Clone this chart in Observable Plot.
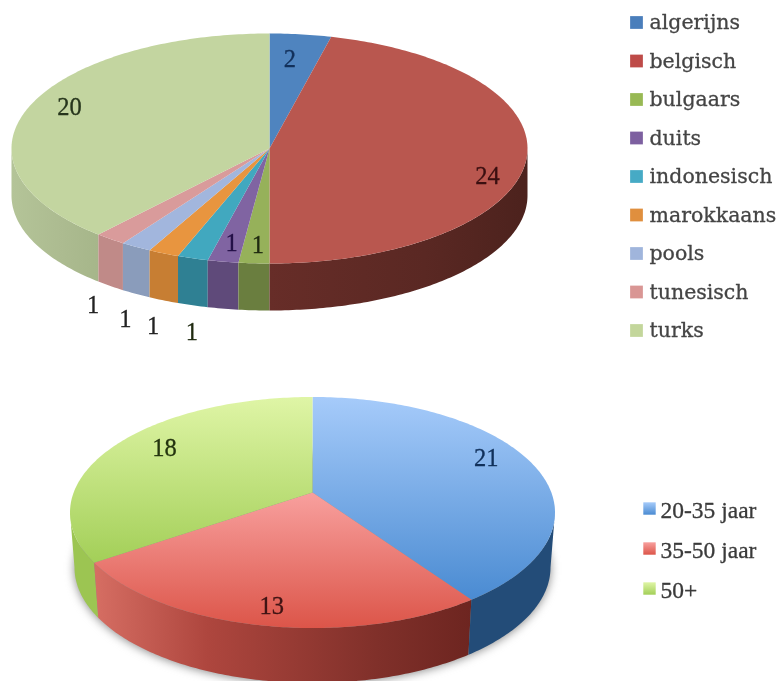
<!DOCTYPE html>
<html><head><meta charset="utf-8">
<script src="https://cdn.jsdelivr.net/npm/d3@7"></script>
<script src="https://cdn.jsdelivr.net/npm/@observablehq/plot@0.6"></script>
<style>html,body{margin:0;padding:0;background:#fff}svg{display:block}</style>
</head><body><div id="chart"></div>
<script>
// --- data ---
const nationalities = ["algerijns","belgisch","bulgaars","duits","indonesisch","marokkaans","pools","tunesisch","turks"];
const nationalityCounts = [2,24,1,1,1,1,1,1,20];
const ageGroups = ["20-35 jaar","35-50 jaar","50+"];
const ageCounts = [21,13,18];
// --- styles ---
const natTop = ["#4f84bf","#b9574f","#96b15a","#8064a2","#41a8bf","#e8953f","#a2b6dd","#d99b9b","#c3d5a0"];
const natSide = ["#34587f","url(#natRed)","#6a7e3f","#5f4a7a","#2f8093","#c77e33","#8a9cbb","#c08a88","url(#natGreen)"];
const natLegend = ["#4a7ebb","#be4b48","#98b954","#7d60a0","#46aac5","#e08f3e","#a0b5dc","#d99694","#c3d69b"];
const natTint = ["#12305a","#3a0f10","#1f2a10","#241048","#1f2a10","#222","#222","#222","#26351c"];
const natNudge = [[-3,-4],[26,17],[0,11],[-3,10],[-20,101],[-37,99],[-44,97],[-57,89],[-19,-11]];
const ageTop = ["url(#ageBlue)","url(#ageRed)","url(#ageGreen)"];
const ageSide = ["#234c78","url(#ageRedSide)","#9cc552"];
const ageTint = ["#10305a","#401414","#24340f"];
const ageNudge = [[0,-9],[-8,30],[13,-5]];
const gradients = [
  ["natRed",0,0,1,0,[["0%","#672d28"],["60%","#5a2823"],["100%","#4c221d"]]],
  ["natGreen",0,0,1,0,[["0%","#b4c498"],["60%","#acbb90"],["100%","#a6b68a"]]],
  ["ageBlue",0,0,0,1,[["0%","#a6cbfa"],["100%","#4a8bd2"]]],
  ["ageRed",0,0,0,1,[["0%","#f8a09e"],["100%","#dc5549"]]],
  ["ageGreen",0,0,0,1,[["0%","#dff5a6"],["100%","#a3cf58"]]],
  ["ageRedSide",0,0,1,0,[["0%","#d66e63"],["30%","#ae463e"],["75%","#80302a"],["100%","#6d2520"]]]
];
const pieA = {apex:[269,148], centre:[269,148], rx:258, ry:115, rxLow:258, k:115, depth:47};
const pieB = {apex:[312,492], centre:[312,512], rx:242.5, ry:115.5, rxLow:238, k:113, depth:55};
const LABEL_F = 0.75;

const TAU = Math.PI*2;
// ellipse parameter at which a slice boundary (true pie angle) reaches the rim
function rimParam(p, a){
  const dx = p.rx*Math.sin(a), dy = -p.k*Math.cos(a);
  const ox = (p.apex[0]-p.centre[0])/p.rx, oy = (p.apex[1]-p.centre[1])/p.ry;
  const ux = dx/p.rx, uy = dy/p.ry;
  const A = ux*ux+uy*uy, B = 2*(ox*ux+oy*uy), C = ox*ox+oy*oy-1;
  const t = (-B+Math.sqrt(B*B-4*A*C))/(2*A);
  let phi = Math.atan2(ox+t*ux, -(oy+t*uy));
  if (phi < -1e-6) phi += TAU;
  return phi;
}
const rimPoint = (p,phi)=>({x:p.centre[0]+p.rx*Math.sin(phi), y:p.centre[1]-p.ry*Math.cos(phi)});
const lowPoint = (p,phi,extra=0)=>({x:p.centre[0]+p.rxLow*Math.sin(phi), y:p.centre[1]-p.ry*Math.cos(phi)+p.depth+extra});
function samples(a,b){const n=Math.max(2,Math.ceil((b-a)/0.015));return d3.range(n+1).map(i=>a+(b-a)*i/n);}

function build(values,p,topFill,sideFill,tint,nudge){
  const total = d3.sum(values); let cum = 0;
  const marks=[], labels=[];
  values.forEach((v,i)=>{
    const a0 = cum/total*TAU, a1 = (cum+v)/total*TAU, mid=(a0+a1)/2; cum += v;
    const f0 = rimParam(p,a0), f1 = i===values.length-1 ? TAU : rimParam(p,a1);
    const top = [{x:p.apex[0],y:p.apex[1]},...samples(f0,f1).map(f=>rimPoint(p,f))];
    marks.push(Plot.line(top,{x:"x",y:"y",fill:topFill[i],stroke:"none",curve:"linear"}));
    const s0=Math.max(f0,Math.PI/2), s1=Math.min(f1,Math.PI*1.5);
    if(s1>s0){
      const ss=samples(s0,s1);
      const side=[...ss.map(f=>rimPoint(p,f)),...ss.slice().reverse().map(f=>lowPoint(p,f))];
      marks.unshift(Plot.line(side,{x:"x",y:"y",fill:sideFill[i],stroke:"none",curve:"linear"}));
    }
    labels.push({text:String(v),
      x:p.apex[0]+LABEL_F*p.rx*Math.sin(mid), y:p.apex[1]-LABEL_F*p.k*Math.cos(mid),
      dx:nudge[i][0], dy:nudge[i][1], tint:tint[i]});
  });
  labels.forEach(l=>marks.push(Plot.text([l],{x:"x",y:"y",text:"text",dx:l.dx,dy:l.dy,fill:l.tint,
    stroke:l.tint,strokeWidth:0.3,fontFamily:"Liberation Serif",fontSize:24.5,textAnchor:"middle"})));
  return marks;
}
const defs = () => {
  const d = d3.create("svg:defs");
  gradients.forEach(([id,x1,y1,x2,y2,stops])=>{
    const g=d.append("linearGradient").attr("id",id).attr("x1",x1).attr("y1",y1).attr("x2",x2).attr("y2",y2);
    stops.forEach(([o,c])=>g.append("stop").attr("offset",o).attr("stop-color",c));
  });
  return d.node();
};
const shadowRing = samples(0,TAU).map(f=>lowPoint(pieB,f,1));
const legendTop = nationalities.map((n,i)=>({n,row:22+i*38.5,c:natLegend[i]}));
const legendBottom = ageGroups.map((n,i)=>({n,row:508+i*40,c:ageTop[i]}));

const plot = Plot.plot({
  width:777,height:681,margin:0,
  x:{domain:[0,777],range:[0,777],axis:null},
  y:{domain:[0,681],range:[0,681],axis:null},
  style:{background:"#fff",filter:"blur(0.7px)"},
  marks:[
    defs,
    Plot.line(shadowRing,{x:"x",y:"y",fill:"#8a8a8a",stroke:"none",imageFilter:"blur(5px)",curve:"linear"}),
    ...build(nationalityCounts,pieA,natTop,natSide,natTint,natNudge),
    ...build(ageCounts,pieB,ageTop,ageSide,ageTint,ageNudge),
    ...legendTop.map(d=>Plot.dot([d],{x:()=>636,y:"row",symbol:"square",r:7.2,fill:d.c,stroke:"none"})),
    Plot.text(legendTop,{x:()=>649,y:"row",text:"n",textAnchor:"start",fontFamily:"DejaVu Serif",fontSize:20.5,fill:"#444",stroke:"#444",strokeWidth:0.3}),
    ...legendBottom.map(d=>Plot.dot([d],{x:()=>649,y:"row",symbol:"square",r:7,fill:d.c,stroke:"none"})),
    Plot.text(legendBottom,{x:()=>660,y:"row",dy:2,text:"n",textAnchor:"start",fontFamily:"Liberation Serif",fontSize:23.5,fill:"#3a3a3a",stroke:"#3a3a3a",strokeWidth:0.3})
  ]
});
document.getElementById("chart").append(plot);
</script></body></html>
